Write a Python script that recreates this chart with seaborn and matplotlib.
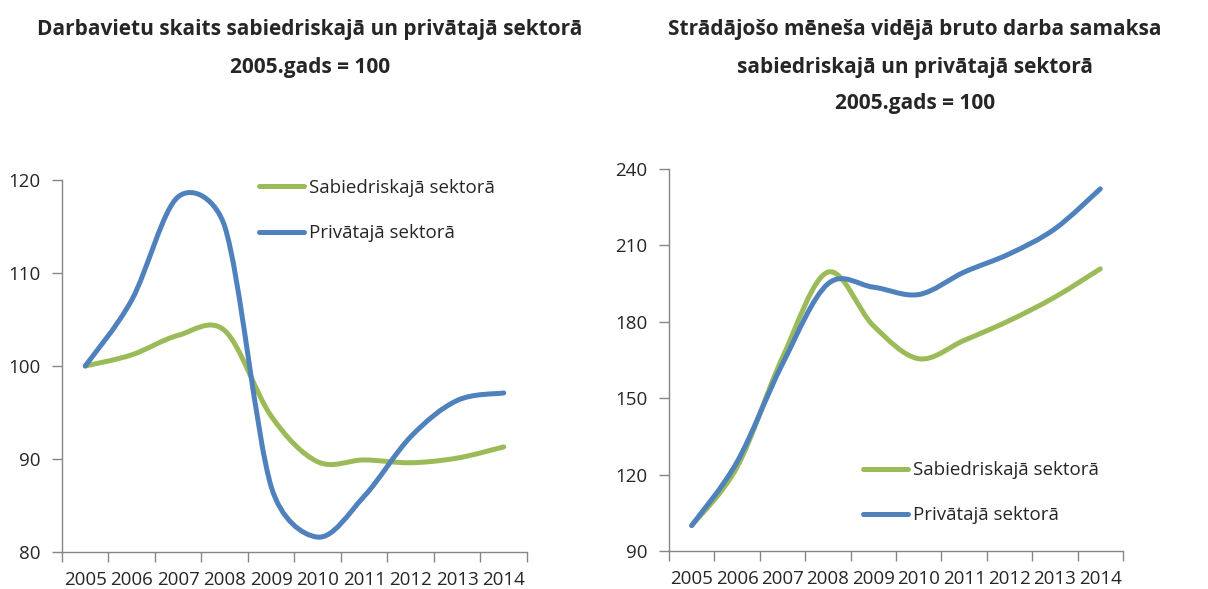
import numpy as np
import matplotlib
matplotlib.use("Agg")
import matplotlib.pyplot as plt
from matplotlib.path import Path
from matplotlib.patches import PathPatch
from matplotlib.lines import Line2D
import seaborn as sns

# data (2005 = 100)
years = [2005, 2006, 2007, 2008, 2009, 2010, 2011, 2012, 2013, 2014]

jobs_public = [100, 101.2, 103.3, 103.8, 94.6, 89.7, 89.9, 89.6, 90.1, 91.3]
jobs_private = [100, 107.1, 118.2, 115.0, 87.0, 81.6, 86.0, 92.4, 96.3, 97.1]

wage_public = [100, 123, 166, 199.5, 178.5, 165.5, 172.7, 180.5, 189.7, 200.8]
wage_private = [100, 125, 163.5, 194.9, 193.6, 190.7, 199.5, 206.7, 216.5, 232.2]

labels = ["Sabiedriskajā sektorā", "Privātajā sektorā"]
colors = ["#9BBB59", "#4F81BD"]

sns.set_theme(style="ticks")
plt.rcParams["font.family"] = ["Open Sans", "DejaVu Sans"]

W, H = 1208, 589
FS = 13.5
fig = plt.figure(figsize=(W / 100, H / 100), dpi=100)


def smooth_line(ax, x, y, color):
    # Excel-style smoothed line: cubic Bezier through the points,
    # tangents computed in pixel space so the shape follows the aspect
    pos = ax.get_position()
    x0, x1 = ax.get_xlim()
    y0, y1 = ax.get_ylim()
    sx = W * pos.width / (x1 - x0)
    sy = H * pos.height / (y1 - y0)
    P = np.column_stack([np.asarray(x, float) * sx, np.asarray(y, float) * sy])
    n = len(P)
    verts = [P[0]]
    codes = [Path.MOVETO]
    for i in range(n - 1):
        p0, p1, p2, p3 = P[max(i - 1, 0)], P[i], P[i + 1], P[min(i + 2, n - 1)]
        seg = np.linalg.norm(p2 - p1)
        t1 = (p2 - p0) / 6
        t2 = (p3 - p1) / 6
        for t in (t1, t2):
            L = np.linalg.norm(t)
            if L > seg / 2:
                t *= (seg / 2) / L
        verts += [p1 + t1, p2 - t2, p2]
        codes += [Path.CURVE4] * 3
    verts = np.array(verts) / [sx, sy]
    ax.add_patch(PathPatch(Path(verts, codes), facecolor="none", edgecolor=color,
                           lw=3.6, capstyle="round", joinstyle="round", zorder=3))


def setup(ax, ylim, step):
    ax.set_xlim(2004.5, 2014.5)
    ax.set_ylim(*ylim)
    ax.set_yticks(np.arange(ylim[0], ylim[1] + 1, step))
    ax.set_xticks(np.arange(2004.5, 2015, 1))
    ax.set_xticklabels([])
    ax.set_xticks(years, minor=True)
    ax.set_xticklabels([str(y) for y in years], minor=True)
    ax.tick_params(axis="x", which="major", length=7, width=1, color="#868686", direction="out")
    ax.tick_params(axis="x", which="minor", length=0, pad=14, labelsize=FS)
    ax.tick_params(axis="y", length=7, width=1, color="#868686", pad=8.5, labelsize=FS)
    for s in ["left", "bottom"]:
        ax.spines[s].set_color("#868686")
        ax.spines[s].set_linewidth(1)
    sns.despine(ax=ax)
    ax.grid(False)


def legend(ax, anchor):
    handles = [Line2D([], [], color=c, lw=3.6, solid_capstyle="round") for c in colors]
    ax.legend(handles, labels, loc="upper left", bbox_to_anchor=anchor, frameon=False,
              fontsize=FS, handlelength=2.4, handletextpad=0.25, labelspacing=1.45,
              borderpad=0, borderaxespad=0)


ax1 = fig.add_axes([62 / W, 1 - 552 / H, 465 / W, 372 / H])
setup(ax1, (80, 120), 10)
smooth_line(ax1, years, jobs_public, colors[0])
smooth_line(ax1, years, jobs_private, colors[1])
legend(ax1, (0.424, 1.003))

ax2 = fig.add_axes([669 / W, 1 - 551 / H, 454 / W, 382 / H])
setup(ax2, (90, 240), 30)
smooth_line(ax2, years, wage_public, colors[0])
smooth_line(ax2, years, wage_private, colors[1])
legend(ax2, (0.427, 0.235))

tkw = dict(ha="center", va="center", fontsize=15, fontweight="bold")
fig.text(310 / W, 1 - 30 / H, "Darbavietu skaits sabiedriskajā un privātajā sektorā", **tkw)
fig.text(310 / W, 1 - 68 / H, "2005.gads = 100", **tkw)
fig.text(915 / W, 1 - 30 / H, "Strādājošo mēneša vidējā bruto darba samaksa", **tkw)
fig.text(915 / W, 1 - 67 / H, "sabiedriskajā un privātajā sektorā", **tkw)
fig.text(915 / W, 1 - 103 / H, "2005.gads = 100", **tkw)

fig.savefig("out.png", dpi=100)
